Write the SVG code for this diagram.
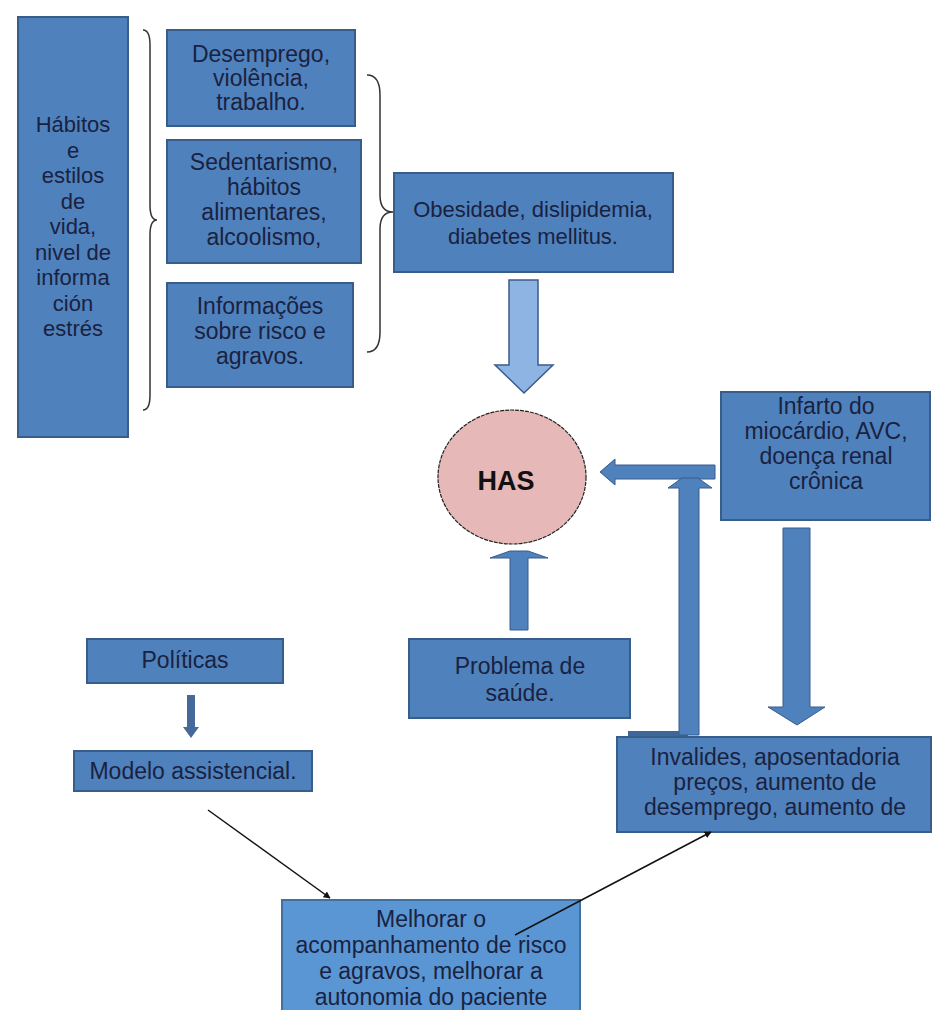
<svg xmlns="http://www.w3.org/2000/svg" width="933" height="1010" viewBox="0 0 933 1010">
<style>
.box{fill:#4f81bd;stroke:#385d8a;stroke-width:2}
.lbox{fill:#5b96d4;stroke:#41719c;stroke-width:2}
.t{font-family:"Liberation Sans",Arial,sans-serif;font-size:23px;fill:#1a2240;text-anchor:middle}
.s{font-size:22px}
.brace{fill:none;stroke:#333;stroke-width:1.5}
.blk{fill:#4f81bd;stroke:#385d8a;stroke-width:1}
.lt{fill:#8db4e2;stroke:#3b5a8a;stroke-width:1.5}
.line{stroke:#111;stroke-width:1.5;fill:none}
</style>
<defs>
<marker id="ah" viewBox="0 0 10 10" refX="9" refY="5" markerWidth="7" markerHeight="7" orient="auto" markerUnits="userSpaceOnUse">
<path d="M0,0 L10,5 L0,10 z" fill="#111"/>
</marker>
</defs>
<rect width="933" height="1010" fill="#ffffff"/>

<g id="habitos">
<rect class="box" x="18" y="17" width="110" height="420"/>
<text class="t s"><tspan x="73" y="132">Hábitos</tspan><tspan x="73" y="157.5">e</tspan><tspan x="73" y="183">estilos</tspan><tspan x="73" y="208.5">de</tspan><tspan x="73" y="234">vida,</tspan><tspan x="73" y="259.5">nivel de</tspan><tspan x="73" y="285">informa</tspan><tspan x="73" y="310.5">ción</tspan><tspan x="73" y="336">estrés</tspan></text>
</g>

<g id="desemprego">
<rect class="box" x="167" y="30" width="188" height="96"/>
<text class="t"><tspan x="261" y="62">Desemprego,</tspan><tspan x="261" y="86">violência,</tspan><tspan x="261" y="110">trabalho.</tspan></text>
</g>

<g id="sedentarismo">
<rect class="box" x="167" y="140" width="194" height="123"/>
<text class="t"><tspan x="264" y="170">Sedentarismo,</tspan><tspan x="264" y="195">hábitos</tspan><tspan x="264" y="220">alimentares,</tspan><tspan x="264" y="245">alcoolismo,</tspan></text>
</g>

<g id="informacoes">
<rect class="box" x="167" y="283" width="186" height="104"/>
<text class="t"><tspan x="260" y="314">Informações</tspan><tspan x="260" y="339">sobre risco e</tspan><tspan x="260" y="364">agravos.</tspan></text>
</g>

<g id="obesidade">
<rect class="box" x="394" y="173" width="279" height="99"/>
<text class="t s"><tspan x="533" y="217">Obesidade, dislipidemia,</tspan><tspan x="533" y="244">diabetes mellitus.</tspan></text>
</g>

<g id="has">
<ellipse cx="512" cy="477" rx="74" ry="67" fill="#e6b8b7" stroke="#222" stroke-width="1.2" stroke-dasharray="4 1"/>
<text x="506" y="490" font-family="'Liberation Sans',Arial,sans-serif" font-size="27" font-weight="bold" fill="#111" text-anchor="middle">HAS</text>
</g>

<g id="infarto">
<rect class="box" x="721" y="392" width="209" height="128"/>
<text class="t"><tspan x="826" y="414">Infarto do</tspan><tspan x="826" y="439">miocárdio, AVC,</tspan><tspan x="826" y="464">doença renal</tspan><tspan x="826" y="489">crônica</tspan></text>
</g>

<g id="problema">
<rect class="box" x="409" y="639" width="221" height="79"/>
<text class="t"><tspan x="520" y="674">Problema de</tspan><tspan x="520" y="701">saúde.</tspan></text>
</g>

<g id="invalides">
<rect x="628" y="731" width="60" height="8" fill="#3e6699"/>
<rect class="box" x="617" y="737" width="314" height="95"/>
<text class="t"><tspan x="775" y="765">Invalides, aposentadoria</tspan><tspan x="775" y="790">preços, aumento de</tspan><tspan x="775" y="815">desemprego, aumento de</tspan></text>
</g>

<g id="politicas">
<rect class="box" x="87" y="639" width="196" height="44"/>
<text class="t" x="185" y="668">Políticas</text>
</g>

<g id="modelo">
<rect class="box" x="74" y="751" width="238" height="40"/>
<text class="t" x="193" y="779">Modelo assistencial.</text>
</g>

<g id="melhorar">
<rect class="lbox" x="282" y="900" width="298" height="115"/>
<text class="t"><tspan x="431" y="927">Melhorar o</tspan><tspan x="431" y="953">acompanhamento de risco</tspan><tspan x="431" y="979">e agravos, melhorar a</tspan><tspan x="431" y="1005">autonomia do paciente</tspan></text>
</g>

<g id="connectors">
<path class="brace" d="M143,30 Q150,30 150,45 L150,205 Q150,220 157,220 Q150,220 150,235 L150,395 Q150,410 143,410"/>
<path class="brace" d="M367,75 Q380,75 380,95 L380,195 Q380,212 393,212 Q380,212 380,229 L380,332 Q380,352 367,352"/>
<polygon class="lt" points="509,280 538,280 538,365 553,365 524,393 495,365 509,365"/>
<polygon class="blk" points="715,465 615,465 615,459 600,472 615,485 615,479 715,479"/>
<polygon class="blk" points="679,735 679,488 668,488 682,478 698,478 712,488 699,488 699,735"/>
<polygon class="blk" points="510,630 510,558 490,558 510,551 528,551 548,558 528,558 528,630"/>
<polygon class="blk" points="783,528 810,528 810,707 825,707 797,725 768,707 783,707"/>
<polygon points="187,695 195,695 195,727 199,727 191,738 183,727 187,727" fill="#46699a"/>
<line class="line" x1="208" y1="810" x2="330" y2="898" marker-end="url(#ah)"/>
<line class="line" x1="515" y1="935" x2="711" y2="832" marker-end="url(#ah)"/>
</g>
</svg>
